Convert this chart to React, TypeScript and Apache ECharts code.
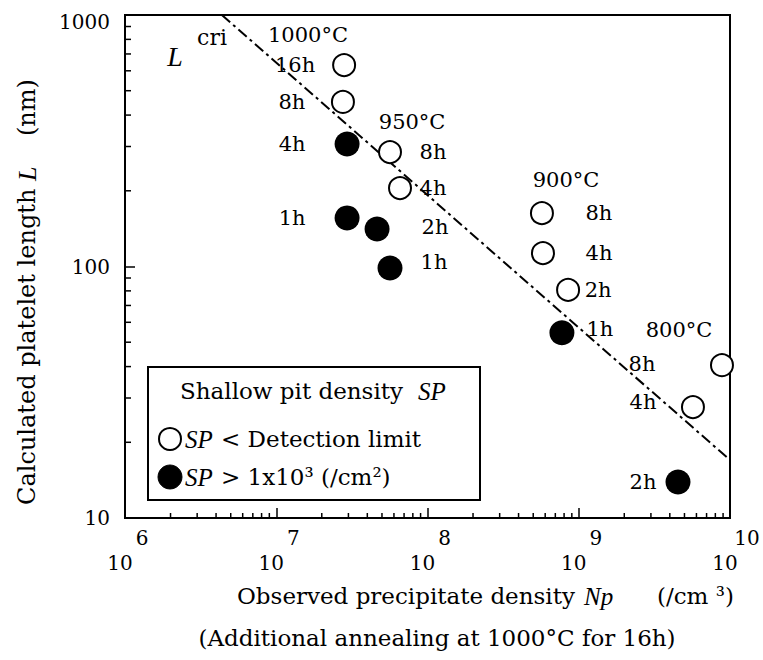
import React, { useEffect, useRef } from 'react';
import * as echarts from 'echarts';

const SERIF = '"DejaVu Serif", "Liberation Serif", serif';
const TIMES = '"Liberation Serif", "DejaVu Serif", serif';

// Open circles: SP < detection limit
const openNp = [2.81e7, 2.76e7, 5.65e7, 6.58e7, 5.71e8, 5.8e8, 8.5e8, 8.85e9, 5.69e9];
const openL = [632, 451, 285, 205, 163, 113, 80.7, 40.5, 27.6];
const openTime = ['16h', '8h', '8h', '4h', '8h', '4h', '2h', '8h', '4h'];

// Filled circles: SP > 1x10^3 /cm2
const filledNp = [2.94e7, 2.94e7, 4.64e7, 5.65e7, 7.74e8, 4.53e9];
const filledL = [307, 156, 141, 98.6, 54.5, 13.9];
const filledTime = ['4h', '1h', '2h', '1h', '1h', '2h'];

// Temperature group annotations
const tempText = ['1000°C', '950°C', '900°C', '800°C'];
const tempNp = [1.62e7, 7.91e7, 8.24e8, 4.6e9];
const tempL = [832, 376, 221, 56];

// Critical length line L_cri
const criNp = [4.37e6, 1e10];
const criL = [1000, 17.0];
const criLabelNp = [2.14e6, 3.76e6];
const criLabelL = [687, 817];

// Axis decades and minor multipliers
const xDecades = [1e6, 1e7, 1e8, 1e9];
const yDecades = [10, 100];
const minorMult = [2, 3, 4, 5, 6, 7, 8, 9];

// label offsets (pixels, style only)
const openLabelOffset = [[-49, 0], [-51, 0], [43, 0], [33, 0], [57, 0], [56, 0], [30, 0], [-80, -1], [-50, -5]];
const filledLabelOffset = [[-55, 0], [-55, 0], [58, -2], [44, -6], [38, -4], [-35, 0]];

const labelBase = { show: true, position: 'inside', color: '#000', fontFamily: SERIF, fontSize: 21, opacity: 1 };

export default function App() {
  const ref = useRef<HTMLDivElement>(null);
  useEffect(() => {
    if (!ref.current) return;
    const chart = echarts.init(ref.current, undefined, { renderer: 'svg' });

    const xMinor: number[][] = [];
    xDecades.forEach((d) => minorMult.forEach((m) => xMinor.push([d * m, 10])));
    const yMinor: number[][] = [];
    yDecades.forEach((d) => minorMult.forEach((m) => yMinor.push([1e6, d * m])));

    const txt = (x: number, y: number, text: string, extra: any = {}, rich: any = undefined, el: any = {}) => ({
      type: 'text',
      x,
      y,
      z: 20,
      ...el,
      style: {
        text,
        fontFamily: SERIF,
        fontSize: 23,
        fill: '#000',
        align: 'left',
        textAlign: 'left',
        verticalAlign: 'middle',
        textVerticalAlign: 'middle',
        rich,
        ...extra,
      },
    });
    const ital = { fontStyle: 'italic', fontFamily: TIMES, fontSize: 25 };

    const option: any = {
      animation: false,
      backgroundColor: '#fff',
      grid: { left: 125, right: 33, top: 15, bottom: 142, show: true, borderColor: '#000', borderWidth: 2 },
      xAxis: {
        type: 'log',
        logBase: 10,
        min: 1e6,
        max: 1e10,
        splitLine: { show: false },
        axisLine: { show: true, lineStyle: { color: '#000', width: 2 } },
        axisTick: { show: true, inside: true, length: 10, lineStyle: { color: '#000', width: 1.5 } },
        axisLabel: {
          margin: 7,
          color: '#000',
          formatter: (v: number) => `{e|${Math.round(Math.log10(v))}}\n{b|10}`,
          rich: {
            e: { fontFamily: SERIF, fontSize: 20, color: '#000', lineHeight: 25, padding: [0, 0, 0, 34] },
            b: { fontFamily: SERIF, fontSize: 20, color: '#000', lineHeight: 25, padding: [0, 10, 0, 0] },
          },
        },
      },
      yAxis: {
        type: 'log',
        logBase: 10,
        min: 10,
        max: 1000,
        splitLine: { show: false },
        axisLine: { show: true, lineStyle: { color: '#000', width: 2 } },
        axisTick: { show: true, inside: true, length: 10, lineStyle: { color: '#000', width: 1.5 } },
        axisLabel: {
          margin: 15,
          color: '#000',
          formatter: (v: number) => (v >= 999 ? '{t|1000}' : `{n|${Math.round(v)}}`),
          rich: {
            t: { fontFamily: SERIF, fontSize: 20, color: '#000', padding: [14, 0, 0, 0] },
            n: { fontFamily: SERIF, fontSize: 20, color: '#000' },
          },
        },
      },
      series: [
        {
          type: 'custom',
          silent: true,
          z: 5,
          data: xMinor,
          renderItem: (_p: any, api: any) => {
            const p = api.coord([api.value(0), api.value(1)]);
            return { type: 'line', shape: { x1: p[0], y1: p[1], x2: p[0], y2: p[1] - 5 }, style: { stroke: '#000', lineWidth: 1.5 } };
          },
        },
        {
          type: 'custom',
          silent: true,
          z: 5,
          data: yMinor,
          renderItem: (_p: any, api: any) => {
            const p = api.coord([api.value(0), api.value(1)]);
            return { type: 'line', shape: { x1: p[0], y1: p[1], x2: p[0] + 6, y2: p[1] }, style: { stroke: '#000', lineWidth: 1.5 } };
          },
        },
        {
          name: 'Lcri',
          type: 'line',
          silent: true,
          z: 2,
          symbol: 'none',
          data: criNp.map((x, i) => [x, criL[i]]),
          lineStyle: { color: '#000', width: 2, type: [11, 4, 3, 4] },
        },
        {
          name: 'SP < Detection limit',
          type: 'scatter',
          z: 4,
          symbol: 'circle',
          symbolSize: 22,
          itemStyle: { color: '#fff', borderColor: '#000', borderWidth: 2, opacity: 1 },
          data: openNp.map((x, i) => ({
            value: [x, openL[i]],
            label: { ...labelBase, formatter: openTime[i], offset: openLabelOffset[i] },
          })),
        },
        {
          name: 'SP > 1x10³ (/cm²)',
          type: 'scatter',
          z: 4,
          symbol: 'circle',
          symbolSize: 25,
          itemStyle: { color: '#000', opacity: 1 },
          data: filledNp.map((x, i) => ({
            value: [x, filledL[i]],
            label: { ...labelBase, formatter: filledTime[i], offset: filledLabelOffset[i] },
          })),
        },
        {
          name: 'annotations',
          type: 'scatter',
          silent: true,
          z: 3,
          symbolSize: 1,
          itemStyle: { color: 'rgba(255,255,255,0)', opacity: 1 },
          label: { ...labelBase },
          data: [
            ...tempText.map((t, i) => ({ value: [tempNp[i], tempL[i]], label: { ...labelBase, formatter: t } })),
            { value: [criLabelNp[0], criLabelL[0]], label: { ...labelBase, formatter: 'L', fontStyle: 'italic', fontFamily: TIMES, fontSize: 28 } },
            { value: [criLabelNp[1], criLabelL[1]], label: { ...labelBase, formatter: 'cri', fontSize: 22 } },
          ],
        },
      ],
      graphic: [
        // legend box
        {
          type: 'rect',
          z: 10,
          shape: { x: 148, y: 367, width: 332, height: 133 },
          style: { fill: '#fff', stroke: '#000', lineWidth: 2 },
        },
        txt(180, 391, 'Shallow pit density'),
        txt(418, 391, 'SP', ital),
        { type: 'circle', z: 20, shape: { cx: 170, cy: 439, r: 11 }, style: { fill: '#fff', stroke: '#000', lineWidth: 2 } },
        txt(185, 439, 'SP', ital),
        txt(221, 439, '< Detection limit'),
        { type: 'circle', z: 20, shape: { cx: 170, cy: 477, r: 12 }, style: { fill: '#000', stroke: '#000', lineWidth: 1 } },
        txt(185, 477, 'SP', ital),
        txt(221, 477, '> 1x10³ (/cm²)'),
        // x axis title
        txt(237, 596, 'Observed precipitate density'),
        txt(584, 596, 'Np', ital),
        txt(657, 596, '(/cm ³)'),
        txt(437, 638, '(Additional annealing at 1000°C for 16h)', { align: 'center', textAlign: 'center' }),
        // y axis title
        txt(27, 292, 'Calculated platelet length {i|L}    (nm)', { align: 'center', textAlign: 'center', fontSize: 24 },
          { i: { fontFamily: TIMES, fontSize: 26, fontStyle: 'italic', fill: '#000', color: '#000' } },
          { rotation: Math.PI / 2 }),
      ],
    };

    chart.setOption(option);
    return () => chart.dispose();
  }, []);

  return (
    <div
      ref={ref}
      style={{ position: 'absolute', left: 0, top: 0, width: 763, height: 660, background: '#fff' }}
    />
  );
}
